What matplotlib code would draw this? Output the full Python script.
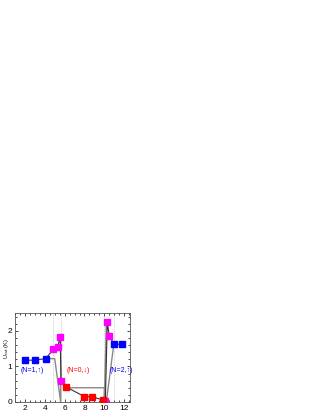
import matplotlib.pyplot as plt
import numpy as np

plt.rcParams.update({'font.size': 6})
plt.rcParams["font.family"] = "sans-serif"
plt.rcParams['font.sans-serif'] = ['Liberation Sans', 'DejaVu Sans']

# measured points (x, U)
x_blue_l = [2.0, 3.0, 4.1]
y_blue_l = [1.17, 1.18, 1.22]
x_mag_l = [4.85, 5.3, 5.55, 5.65]
y_mag_l = [1.48, 1.55, 1.82, 0.58]
x_red = [6.1, 8.0, 8.75, 9.9]
y_red = [0.43, 0.15, 0.15, 0.05]
x_mag_r = [10.1, 10.3, 10.5]
y_mag_r = [0.03, 2.25, 1.85]
x_blue_r = [11.0, 11.8]
y_blue_r = [1.62, 1.63]

# model curve pieces
mod1_x = [4.1, 5.0, 5.6, 5.6]
mod1_y = [1.22, 1.22, 0.0, 1.75]
mod2_x = [6.1, 6.4, 10.0, 10.0, 10.2]
mod2_y = [0.43, 0.4, 0.4, 0.0, 2.2]
mod3_x = [10.2, 10.95]
mod3_y = [0.0, 1.62]

vlines = [4.8, 5.6, 10.0, 11.0]

fig = plt.figure(figsize=(3.19, 4.11), dpi=100)
ax = fig.add_axes([0.047, 0.022, 0.361, 0.216])

for v in vlines:
    ax.axvline(v, color='#bbbbbb', linewidth=0.6, linestyle=':', zorder=1)

ax.plot(mod1_x, mod1_y, color='#888888', linewidth=1.0, zorder=2)
ax.plot(mod2_x, mod2_y, color='#888888', linewidth=1.0, zorder=2)
ax.plot(mod3_x, mod3_y, color='#888888', linewidth=1.0, zorder=2)

xs = x_blue_l + x_mag_l + x_red + x_mag_r + x_blue_r
ys = y_blue_l + y_mag_l + y_red + y_mag_r + y_blue_r
ax.plot(xs, ys, color='#333333', linewidth=0.8, zorder=3)

ms = 4.2
ax.plot(x_blue_l, y_blue_l, 's', color='#0000ff', markersize=ms, zorder=4)
ax.plot(x_blue_r, y_blue_r, 's', color='#0000ff', markersize=ms, zorder=4)
ax.plot(x_mag_l, y_mag_l, 's', color='#ff00ff', markersize=ms, zorder=4)
ax.plot(x_mag_r, y_mag_r, 's', color='#ff00ff', markersize=ms, zorder=4)
ax.plot(x_red, y_red, 's', color='#ff0000', markersize=ms, zorder=4)

fam = ['Liberation Sans', 'DejaVu Sans']
ax.text(2.7, 0.88, '(N=1,\u2191)', color='#0000ff', fontsize=5, ha='center', va='center', family=fam)
ax.text(7.4, 0.88, '(N=0,\u2193)', color='#ff0000', fontsize=5, ha='center', va='center', family=fam)
ax.text(11.75, 0.88, '(N=2,\u2191)', color='#0000ff', fontsize=5, ha='center', va='center', family=fam)

ax.set_xlim(1, 12.6)
ax.set_ylim(0, 2.5)
ax.set_xticks([2, 4, 6, 8, 10, 12])
ax.set_yticks([0, 1, 2])
ax.minorticks_on()
ax.tick_params(which='both', direction='in', top=True, right=True, width=0.5)
ax.tick_params(which='major', length=2.5, pad=2)
ax.tick_params(which='minor', length=1.5)
for s in ax.spines.values():
    s.set_linewidth(0.6)
    s.set_color('#555555')

ax.set_ylabel(r'U$_{\rm cut}$ (K)', fontsize=4, va='center')
ax.yaxis.set_label_coords(-0.075, 0.6)

plt.savefig('out.png', dpi=100)
